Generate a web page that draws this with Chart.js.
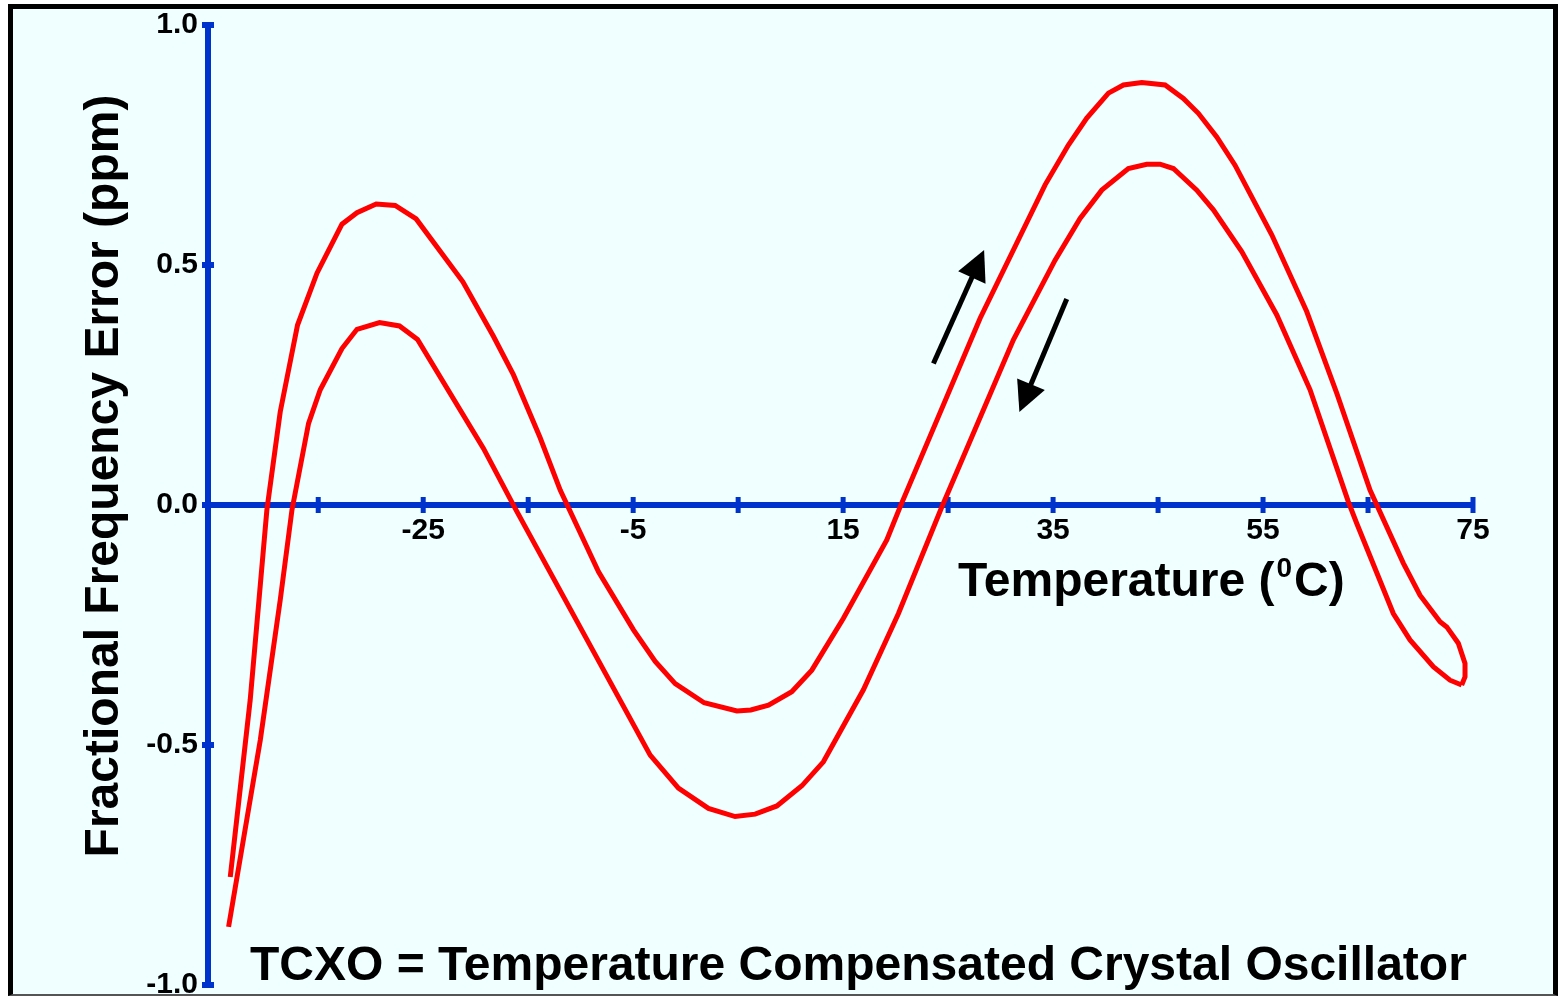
<!DOCTYPE html>
<html><head><meta charset="utf-8">
<script src="https://cdn.jsdelivr.net/npm/chart.js@4.4.1/dist/chart.umd.min.js"></script>
<style>
html,body{margin:0;padding:0;background:#fff;width:1560px;height:996px;overflow:hidden}
#frame{position:absolute;left:8px;top:4px;width:1550px;height:992px;box-sizing:border-box;border:5px solid #000;border-bottom:2px solid #555;background:#F0FFFF}
#c{position:absolute;left:0;top:0}
</style></head><body>
<div id="frame"></div>
<canvas id="c" width="1560" height="996"></canvas>
<script>
// Heating branch (upper curve), temperature in °C and fractional frequency error in ppm
const heatingTemp = [-43.38, -41.48, -39.89, -38.62, -36.97, -35.12, -32.74, -31.31, -29.48, -27.67, -25.67, -21.22, -18.30, -16.40, -13.86, -11.95, -8.30, -4.97, -2.90, -1.00, 1.76, 4.88, 6.21, 7.89, 10.11, 12.02, 15.03, 19.16, 20.43, 28.05, 34.24, 36.46, 38.21, 40.27, 41.70, 43.45, 45.67, 47.41, 48.84, 50.59, 52.33, 55.83, 59.16, 62.02, 65.19, 68.36, 69.95, 71.86, 72.50, 73.60, 74.24, 74.24, 73.92];
const heatingError = [-0.775, -0.406, -0.010, 0.194, 0.375, 0.483, 0.585, 0.609, 0.627, 0.624, 0.596, 0.465, 0.351, 0.271, 0.140, 0.031, -0.139, -0.260, -0.326, -0.372, -0.412, -0.429, -0.427, -0.417, -0.389, -0.344, -0.236, -0.073, -0.004, 0.389, 0.667, 0.750, 0.806, 0.858, 0.875, 0.880, 0.875, 0.847, 0.816, 0.767, 0.708, 0.563, 0.403, 0.233, 0.031, -0.121, -0.188, -0.243, -0.254, -0.288, -0.330, -0.358, -0.375];
// Cooling branch (lower curve), from hot end back to cold end
const coolingTemp = [73.92, 72.81, 71.22, 69.00, 67.41, 63.92, 63.12, 59.48, 56.31, 52.97, 50.27, 48.69, 46.46, 45.19, 43.92, 42.17, 39.64, 37.57, 35.19, 31.22, 24.40, 20.27, 16.93, 13.12, 11.07, 8.69, 6.62, 4.71, 2.17, -0.69, -3.38, -16.24, -19.26, -25.54, -27.26, -29.16, -31.31, -32.74, -34.81, -35.92, -37.50, -38.62, -40.52, -43.54];
const coolingError = [-0.375, -0.365, -0.337, -0.281, -0.226, -0.038, 0.007, 0.240, 0.396, 0.528, 0.615, 0.656, 0.701, 0.710, 0.710, 0.701, 0.656, 0.597, 0.510, 0.344, -0.004, -0.226, -0.385, -0.535, -0.585, -0.627, -0.644, -0.649, -0.632, -0.590, -0.521, -0.007, 0.118, 0.345, 0.373, 0.380, 0.366, 0.326, 0.240, 0.170, -0.010, -0.198, -0.490, -0.879];

const xTickValues = [-35, -25, -15, -5, 5, 15, 25, 35, 45, 55, 65, 75];
const xTickLabels = ['', '-25', '', '-5', '', '15', '', '35', '', '55', '', '75'];
const yTickValues = [-1, -0.5, 0, 0.5, 1];
const yTickLabels = ['-1.0', '-0.5', '0.0', '0.5', '1.0'];

// Direction arrows: [tailTemp, tailError, tipTemp, tipError]
const arrowHeating = [23.60, 0.295, 28.43, 0.531];
const arrowCooling = [36.30, 0.429, 31.79, 0.194];

const xTitle = 'Temperature (';
const xTitleSup = '0';
const xTitleEnd = 'C)';
const yTitle = 'Fractional Frequency Error (ppm)';
const caption = 'TCXO = Temperature Compensated Crystal Oscillator';

const FONT = "'Liberation Sans', Arial, Helvetica, sans-serif";
const BLUE = '#0033CC';
const RED = '#FF0000';

function toPoints(xs, ys) { return xs.map((x, i) => ({ x: x, y: ys[i] })); }

const tickMarks = {
  id: 'tickMarks',
  beforeDatasetsDraw(chart) {
    const ctx = chart.ctx, xs = chart.scales.x, ys = chart.scales.y;
    const y0 = ys.getPixelForValue(0), x0 = xs.getPixelForValue(xs.min);
    ctx.save();
    ctx.fillStyle = BLUE;
    xTickValues.forEach(v => { const px = xs.getPixelForValue(v); ctx.fillRect(px - 2.5, y0 - 8, 5, 16); });
    yTickValues.forEach(v => { const py = ys.getPixelForValue(v); ctx.fillRect(x0 - 6, py - 3, 12, 6); });
    ctx.restore();
  }
};

function drawArrow(ctx, xs, ys, a) {
  const x1 = xs.getPixelForValue(a[0]), y1 = ys.getPixelForValue(a[1]);
  const x2 = xs.getPixelForValue(a[2]), y2 = ys.getPixelForValue(a[3]);
  const ang = Math.atan2(y2 - y1, x2 - x1);
  const hl = 30, hw = 15;
  const bx = x2 - hl * Math.cos(ang), by = y2 - hl * Math.sin(ang);
  ctx.strokeStyle = '#000'; ctx.fillStyle = '#000'; ctx.lineWidth = 5; ctx.lineCap = 'butt';
  ctx.beginPath(); ctx.moveTo(x1, y1); ctx.lineTo(bx + 2 * Math.cos(ang), by + 2 * Math.sin(ang)); ctx.stroke();
  ctx.beginPath();
  ctx.moveTo(x2, y2);
  ctx.lineTo(bx + hw * Math.sin(ang), by - hw * Math.cos(ang));
  ctx.lineTo(bx - hw * Math.sin(ang), by + hw * Math.cos(ang));
  ctx.closePath(); ctx.fill();
}

const annotations = {
  id: 'annotations',
  afterDraw(chart) {
    const ctx = chart.ctx, xs = chart.scales.x, ys = chart.scales.y;
    ctx.save();
    drawArrow(ctx, xs, ys, arrowHeating);
    drawArrow(ctx, xs, ys, arrowCooling);
    ctx.fillStyle = '#000';
    ctx.textBaseline = 'alphabetic';
    // x-axis title with superscript
    ctx.textAlign = 'left';
    ctx.font = 'bold 48px ' + FONT;
    let tx = 958, ty = 596;
    ctx.fillText(xTitle, tx, ty);
    tx += ctx.measureText(xTitle).width + 2;
    ctx.font = 'bold 28px ' + FONT;
    ctx.fillText(xTitleSup, tx, ty - 19);
    tx += ctx.measureText(xTitleSup).width + 2;
    ctx.font = 'bold 48px ' + FONT;
    ctx.fillText(xTitleEnd, tx, ty);
    // caption
    ctx.fillText(caption, 250, 980);
    // y-axis title
    ctx.translate(118, 476);
    ctx.rotate(-Math.PI / 2);
    ctx.textAlign = 'center';
    ctx.fillText(yTitle, 0, 0);
    ctx.restore();
  }
};

new Chart(document.getElementById('c'), {
  type: 'scatter',
  data: {
    datasets: [
      { label: 'Heating', data: toPoints(heatingTemp, heatingError), showLine: true, borderColor: RED, borderWidth: 5, pointRadius: 0, tension: 0, fill: false },
      { label: 'Cooling', data: toPoints(coolingTemp, coolingError), showLine: true, borderColor: RED, borderWidth: 5, pointRadius: 0, tension: 0, fill: false }
    ]
  },
  options: {
    responsive: false,
    animation: false,
    events: [],
    layout: { padding: { left: 0, top: 25, right: 87, bottom: 11 } },
    plugins: { legend: { display: false }, tooltip: { enabled: false }, title: { display: false } },
    scales: {
      x: {
        type: 'linear', min: -45.5, max: 75,
        position: { y: 0 },
        afterBuildTicks: s => { s.ticks = xTickValues.map(v => ({ value: v })); },
        ticks: { autoSkip: false, maxRotation: 0, minRotation: 0, padding: 18, color: '#000',
          font: { family: FONT, size: 30, weight: 'bold', lineHeight: 0.5 },
          callback: v => xTickLabels[xTickValues.indexOf(v)] },
        grid: { drawOnChartArea: false, drawTicks: false },
        border: { display: true, color: BLUE, width: 6 }
      },
      y: {
        type: 'linear', min: -1, max: 1,
        afterBuildTicks: s => { s.ticks = yTickValues.map(v => ({ value: v })); },
        afterFit: s => { s.width = 208; },
        ticks: { autoSkip: false, padding: 10, color: '#000',
          font: { family: FONT, size: 30, weight: 'bold', lineHeight: 0.05 },
          callback: v => yTickLabels[yTickValues.indexOf(v)] },
        grid: { drawOnChartArea: false, drawTicks: false },
        border: { display: true, color: BLUE, width: 6 }
      }
    }
  },
  plugins: [tickMarks, annotations]
});
</script>
</body></html>
